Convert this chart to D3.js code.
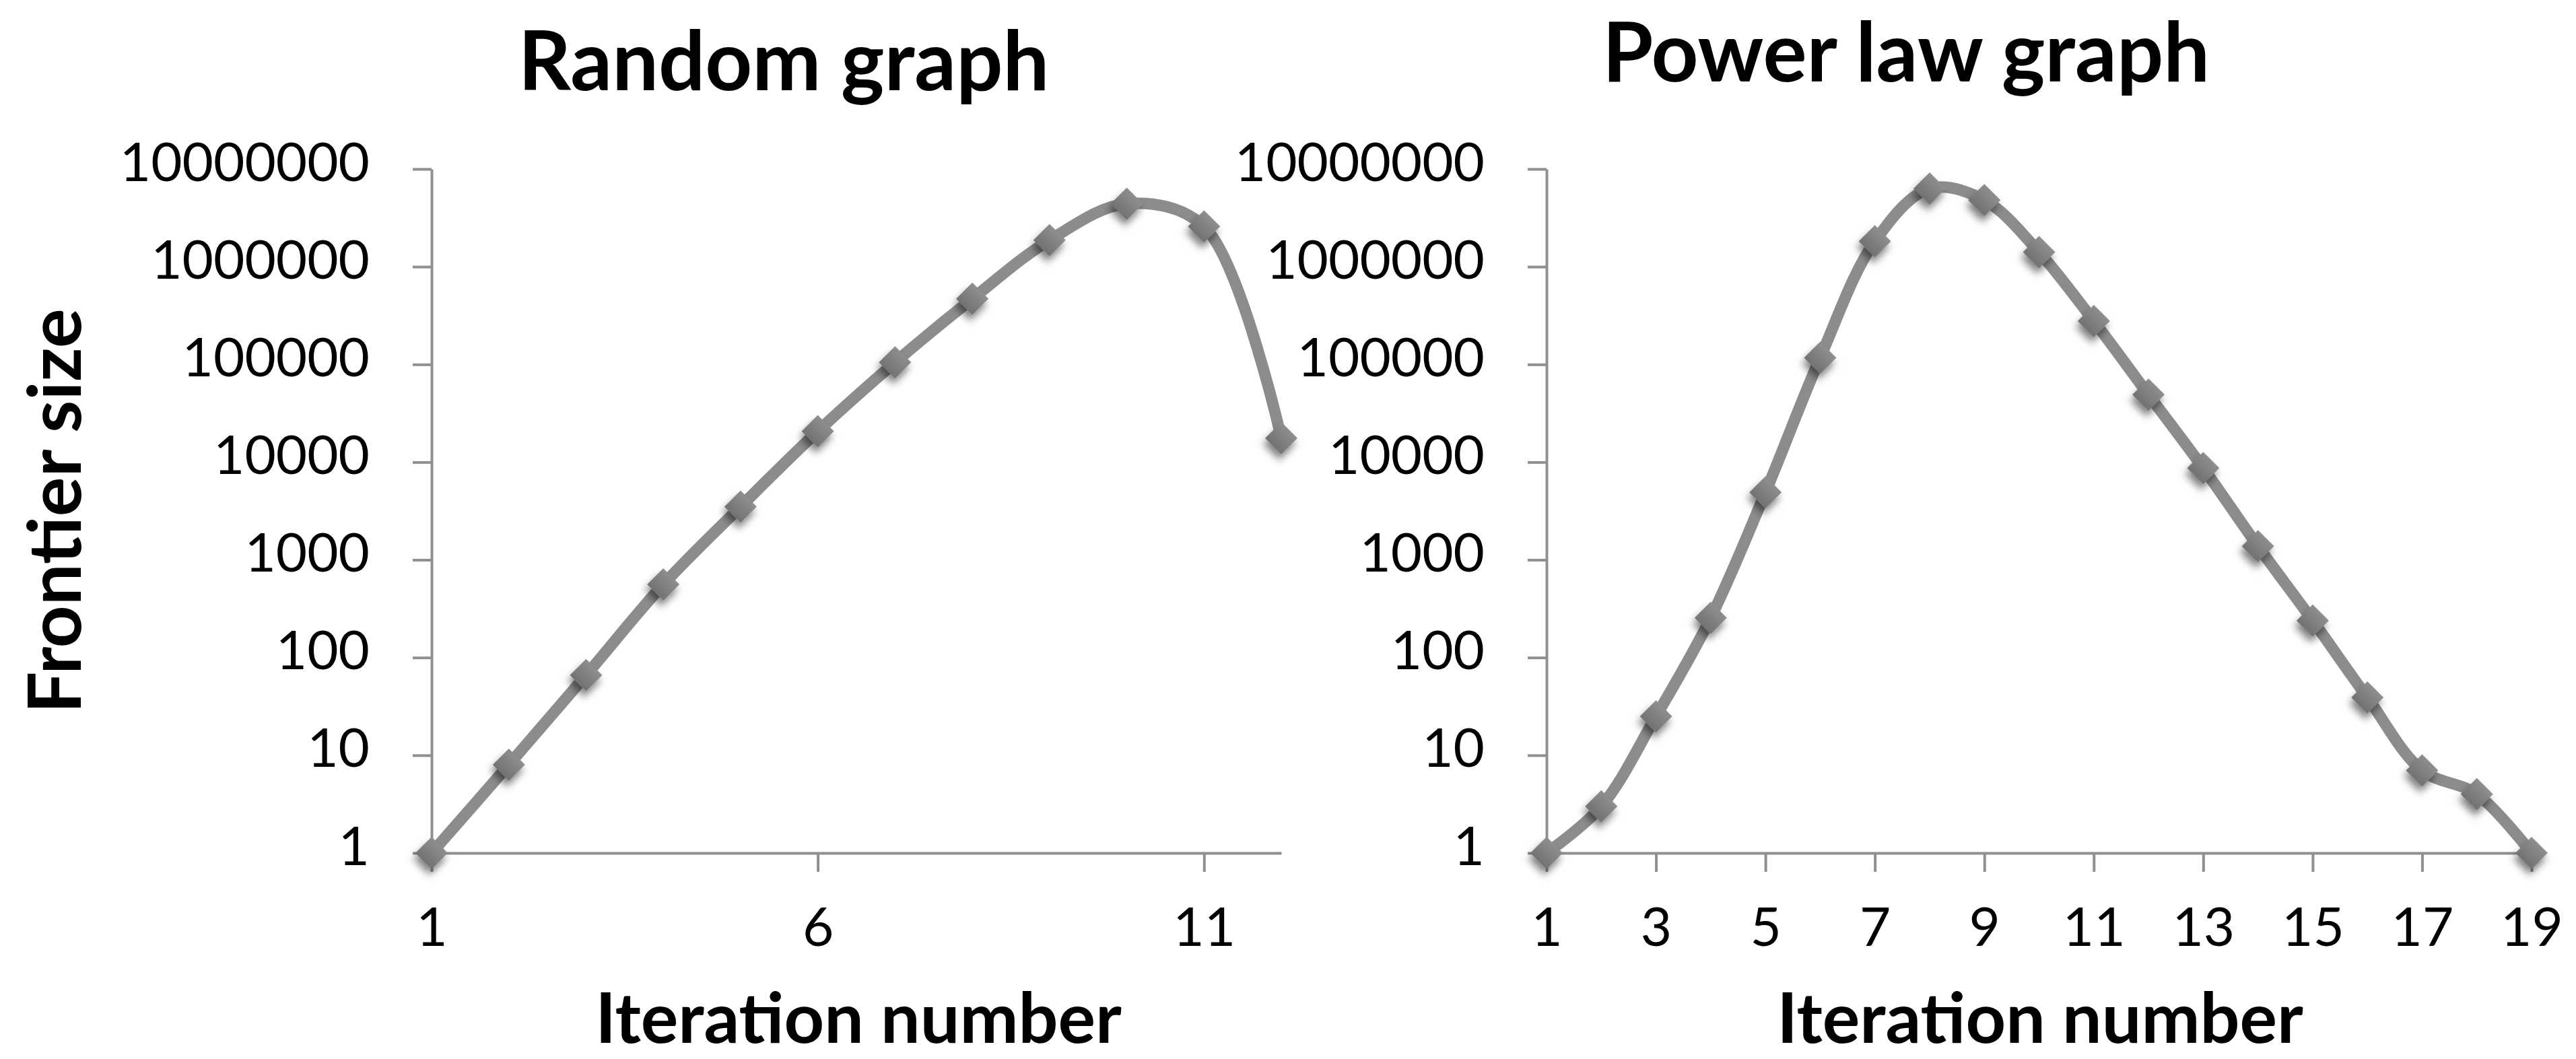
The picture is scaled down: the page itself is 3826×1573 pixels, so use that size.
<!DOCTYPE html>
<html>
<head>
<meta charset="utf-8">
<script src="https://cdn.jsdelivr.net/npm/d3@7"></script>
<style>
  html, body { margin: 0; padding: 0; background: #ffffff; }
  svg { display: block; }
  text { font-family: Lato, "Open Sans", sans-serif; fill: #000; }
</style>
</head>
<body>
<svg id="chart" width="3826" height="1573"></svg>
<script>
// ---------- data ----------
const randomIterations = [1, 2, 3, 4, 5, 6, 7, 8, 9, 10, 11, 12];
const randomFrontier   = [1, 8, 66, 560, 3500, 20700, 105000, 470000, 1870000, 4400000, 2580000, 17600];

const powerIterations  = [1, 2, 3, 4, 5, 6, 7, 8, 9, 10, 11, 12, 13, 14, 15, 16, 17, 18, 19];
const powerFrontier    = [1, 3, 25, 255, 4900, 117000, 1820000, 6300000, 4800000, 1410000, 278000, 49000, 8700, 1380, 239, 39, 7, 4, 1];

const yTickValues = [1, 10, 100, 1000, 10000, 100000, 1000000, 10000000];
const yTickLabels = ["1", "10", "100", "1000", "10000", "100000", "1000000", "10000000"];

const randomXTicks = [1, 6, 11];
const powerXTicks  = [1, 3, 5, 7, 9, 11, 13, 15, 17, 19];

const titles = ["Random graph", "Power law graph"];
const xAxisTitle = "Iteration number";
const yAxisTitle = "Frontier size";

// ---------- drawing ----------
const svg = d3.select("#chart");
const defs = svg.append("defs");

const grad = defs.append("linearGradient")
  .attr("id", "markerGrad").attr("x1", 0).attr("y1", 0).attr("x2", 0).attr("y2", 1);
grad.append("stop").attr("offset", "0%").attr("stop-color", "#8e8e8e");
grad.append("stop").attr("offset", "100%").attr("stop-color", "#727272");

const shadow = defs.append("filter").attr("id", "shadow")
  .attr("x", "-60%").attr("y", "-60%").attr("width", "220%").attr("height", "220%");
shadow.append("feDropShadow")
  .attr("dx", 4).attr("dy", 8).attr("stdDeviation", 6)
  .attr("flood-color", "#000").attr("flood-opacity", 0.5);

const y = d3.scaleLog().domain([1, 1e7]).range([1267, 251]);

const panels = [
  { iters: randomIterations, values: randomFrontier, xTicks: randomXTicks,
    xDomain: [1, 12], xRange: [641, 1903], title: titles[0], titleX: 1164, titleY: 134,
    xTitleX: 1275 },
  { iters: powerIterations, values: powerFrontier, xTicks: powerXTicks,
    xDomain: [1, 19], xRange: [2297, 3760], title: titles[1], titleX: 2831, titleY: 121,
    xTitleX: 3030 }
];

const axisColor = "#8f8f8f";

panels.forEach((p, idx) => {
  const x = d3.scaleLinear().domain(p.xDomain).range(p.xRange);
  const g = svg.append("g");

  // y axis
  const yAxis = d3.axisLeft(y)
    .tickValues(yTickValues)
    .tickFormat((d, i) => yTickLabels[i])
    .tickSize(28).tickSizeOuter(0).tickPadding(64);
  const ya = g.append("g").attr("transform", `translate(${p.xRange[0]},0)`).call(yAxis);
  ya.select(".domain").attr("stroke", axisColor).attr("stroke-width", 4);
  ya.selectAll(".tick line").attr("stroke", axisColor).attr("stroke-width", 4);
  ya.selectAll(".tick text")
    .attr("font-size", 80).attr("dy", null).attr("y", 17)
    .style("font-family", "Lato, 'Open Sans', sans-serif").attr("fill", "#000");

  // x axis
  const xAxis = d3.axisBottom(x)
    .tickValues(p.xTicks)
    .tickFormat(d3.format("d"))
    .tickSize(28).tickSizeOuter(0);
  const xa = g.append("g").attr("transform", `translate(0,${y(1)})`).call(xAxis);
  xa.select(".domain").attr("stroke", axisColor).attr("stroke-width", 4);
  xa.selectAll(".tick line").attr("stroke", axisColor).attr("stroke-width", 4);
  xa.selectAll(".tick text")
    .attr("font-size", 80).attr("dy", null).attr("y", 138)
    .style("font-family", "Lato, 'Open Sans', sans-serif").attr("fill", "#000");

  // line
  const line = d3.line()
    .x((d, i) => x(p.iters[i]))
    .y(d => y(d))
    .curve(d3.curveCatmullRom.alpha(0.5));
  g.append("path")
    .datum(p.values)
    .attr("d", line)
    .attr("fill", "none")
    .attr("stroke", "#8c8c8c")
    .attr("stroke-width", 17)
    .attr("stroke-linecap", "round")
    .attr("stroke-linejoin", "round");

  // markers (diamonds)
  const sym = d3.symbol().type(d3.symbolSquare).size(1150);
  g.selectAll(".marker")
    .data(p.values)
    .join("path")
    .attr("class", "marker")
    .attr("d", sym)
    .attr("transform", (d, i) => `translate(${x(p.iters[i])},${y(d)}) rotate(45)`)
    .attr("fill", "url(#markerGrad)")
    .attr("filter", "url(#shadow)");

  // title
  g.append("text")
    .attr("x", p.titleX).attr("y", p.titleY)
    .attr("text-anchor", "middle")
    .attr("font-size", 122).attr("font-weight", 700)
    .text(p.title);

  // x axis title
  g.append("text")
    .attr("x", p.xTitleX).attr("y", 1549)
    .attr("text-anchor", "middle")
    .attr("font-size", 104).attr("font-weight", 700)
    .text(xAxisTitle);
});

// y axis title
svg.append("text")
  .attr("transform", "translate(120,759) rotate(-90)")
  .attr("text-anchor", "middle")
  .attr("font-size", 110).attr("font-weight", 700)
  .text(yAxisTitle);
</script>
</body>
</html>
